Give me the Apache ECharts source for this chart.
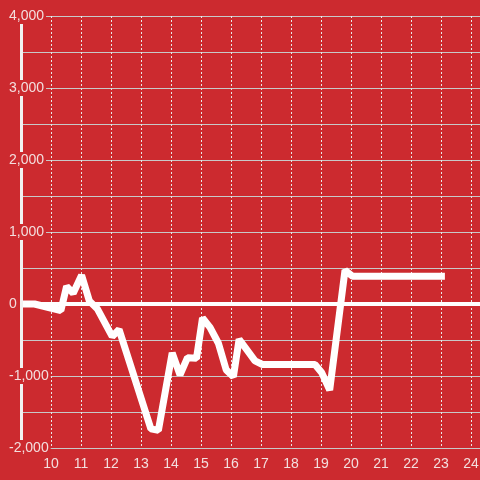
<!DOCTYPE html>
<html>
<head>
<meta charset="utf-8">
<script src="https://cdn.jsdelivr.net/npm/echarts@6/dist/echarts.min.js"></script>
<style>
  html, body { margin: 0; padding: 0; background: #cc2a2f; }
  #main { width: 480px; height: 480px; }
</style>
</head>
<body>
<div id="main"></div>
<script>
// x positions (hour of day) and values
var hours = [9, 9.45, 10.33, 10.52, 10.74, 11.02, 11.28, 11.55, 12.04, 12.27, 13.33, 13.58, 14.04, 14.3, 14.55, 14.85, 15.05, 15.3, 15.58, 15.84, 16.08, 16.27, 16.8, 17.05, 18.8, 19.02, 19.29, 19.8, 20.05, 23.13];
var values = [0, 0, -90, 245, 150, 400, 40, -70, -450, -355, -1735, -1755, -680, -985, -745, -755, -195, -325, -545, -915, -1010, -490, -790, -840, -840, -950, -1195, 468, 385, 385];
var yTicks = { min: -2000, max: 4000, step: 500 };

var bg = '#cc2a2f';
var points = hours.map(function (h, i) { return [h, values[i]]; });

var myChart = echarts.init(document.getElementById('main'));
myChart.setOption({
    backgroundColor: bg,
    animation: false,
    textStyle: { fontFamily: 'Liberation Sans, Arial, sans-serif' },
    grid: { left: 21, right: -21, top: 16, bottom: 32, outerBoundsMode: 'none', containLabel: false },
    xAxis: {
        type: 'value',
        min: 9, max: 25, interval: 1,
        axisLine: { show: false },
        axisTick: { show: false },
        axisLabel: {
            color: '#f3dede', fontSize: 14, margin: 9,
            showMinLabel: false, showMaxLabel: false
        },
        splitLine: {
            show: true,
            lineStyle: { color: '#e8e8e8', width: 1, type: [2, 2] }
        }
    },
    yAxis: [{
        // grid lines only
        type: 'value',
        min: yTicks.min, max: yTicks.max, interval: yTicks.step,
        axisLine: { show: false },
        axisTick: { show: false },
        axisLabel: { show: false },
        splitLine: { show: true, lineStyle: { color: '#c8c8c8', width: 1 } }
    }, {
        // axis line and labels on top
        type: 'value',
        position: 'left',
        z: 5,
        min: yTicks.min, max: yTicks.max, interval: yTicks.step,
        axisLine: { show: true, onZero: false, lineStyle: { color: '#f2f2f2', width: 3 } },
        axisTick: { show: false },
        axisLabel: {
            color: '#f3dede', fontSize: 14, margin: 14, align: 'left',
            backgroundColor: bg, padding: [1, 2],
            formatter: function (v) {
                if (v % 1000 !== 0) return '';
                return v.toLocaleString('en-US');
            }
        },
        splitLine: { show: false }
    }],
    series: [{
        type: 'line',
        data: points,
        showSymbol: false,
        lineStyle: { color: '#ffffff', width: 7 },
        markLine: {
            silent: true,
            symbol: 'none',
            label: { show: false },
            lineStyle: { color: '#ffffff', width: 4, type: 'solid' },
            data: [{ yAxis: 0 }]
        }
    }]
});
</script>
</body>
</html>
